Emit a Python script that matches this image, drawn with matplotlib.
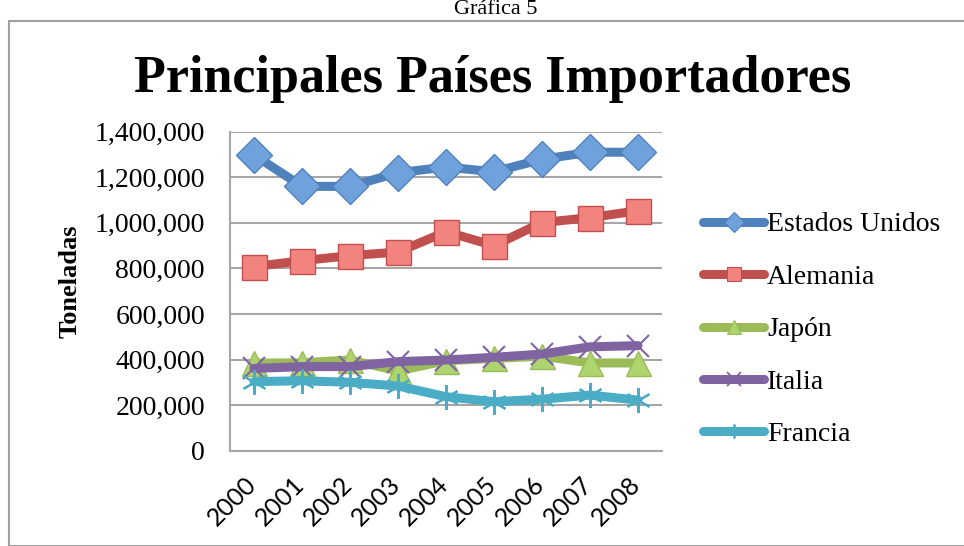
import matplotlib.pyplot as plt
from matplotlib.lines import Line2D
from matplotlib.patches import Rectangle
from matplotlib.ticker import FuncFormatter
from matplotlib.transforms import ScaledTranslation

# Datos (toneladas)
years = ['2000', '2001', '2002', '2003', '2004', '2005', '2006', '2007', '2008']
estados_unidos = [1298000, 1160000, 1160000, 1220000, 1245000, 1224000, 1279000, 1310000, 1310000]
alemania = [808000, 834000, 856000, 872000, 961000, 900000, 1001000, 1023000, 1053000]
japon = [384000, 386000, 398000, 350000, 395000, 405000, 415000, 385000, 385000]
italia = [361000, 369000, 369000, 391000, 398000, 410000, 424000, 456000, 461000]
francia = [303000, 307000, 300000, 284000, 237000, 215000, 226000, 244000, 222000]

series = [
    ('Estados Unidos', estados_unidos, '#4F81BD', '#6FA1DD', 'D', 18),
    ('Alemania', alemania, '#C0504D', '#F2837F', 's', 18),
    ('Japón', japon, '#9BBB59', '#ADD46E', '^', 18),
    ('Italia', italia, '#8064A2', '#8064A2', 'x', 16),
    ('Francia', francia, '#4BACC6', '#4BACC6', (6, 2, 0), 18),
]

serif = 'Liberation Serif'

fig = plt.figure(figsize=(9.64, 5.46), dpi=100)
ax = fig.add_axes([230 / 964, 1 - 450.7 / 546, 432 / 964, 319 / 546])

# marco del grafico
fig.patches.append(Rectangle((9 / 964, 0), 1.0, 1 - 21 / 546, transform=fig.transFigure,
                             fill=False, edgecolor='#A0A0A0', linewidth=1.5))

x = range(len(years))
handles = []
for i, (name, vals, lc, mc, mk, ms) in enumerate(series):
    if mk in ('x',) or isinstance(mk, tuple):
        ax.plot(x, vals, color=lc, linewidth=6.5, marker=mk, markersize=ms,
                markeredgewidth=1.5, markeredgecolor=lc, zorder=3 + i,
                solid_capstyle='round', solid_joinstyle='round')
        handles.append(Line2D([], [], color=lc, linewidth=6.5, marker=mk, markersize=10,
                              markeredgewidth=1.3, markeredgecolor=lc, solid_capstyle='round'))
    else:
        ax.plot(x, vals, color=lc, linewidth=6.5, marker=mk, markersize=ms,
                markerfacecolor=mc, markeredgecolor=lc, markeredgewidth=1.0, zorder=3 + i,
                solid_capstyle='round', solid_joinstyle='round')
        handles.append(Line2D([], [], color=lc, linewidth=6.5, marker=mk, markersize=10,
                              markerfacecolor=mc, markeredgecolor=lc, markeredgewidth=0.8,
                              solid_capstyle='round'))

ax.set_xlim(-0.5, len(years) - 0.5)
ax.set_ylim(0, 1400000)
ax.set_yticks(range(0, 1400001, 200000))
ax.yaxis.set_major_formatter(FuncFormatter(lambda v, p: f'{int(v):,}'))
ax.grid(axis='y', color='#A6A6A6', linewidth=1.5)
ax.set_axisbelow(True)
for s in ['top', 'right']:
    ax.spines[s].set_visible(False)
for s in ['left', 'bottom']:
    ax.spines[s].set_color('#A6A6A6')
    ax.spines[s].set_linewidth(1.5)
ax.tick_params(axis='both', length=0)
ax.tick_params(axis='y', labelsize=20, pad=18)
for t in ax.get_yticklabels():
    t.set_fontfamily(serif)

ax.set_xticks(list(x))
ax.set_xticklabels(years, rotation=45, ha='right', va='top', rotation_mode='anchor',
                   fontsize=18, fontfamily='Lato')
ax.tick_params(axis='x', pad=16)
shift = ScaledTranslation(-7 / 72, 0, fig.dpi_scale_trans)
for t in ax.get_xticklabels():
    t.set_transform(t.get_transform() + shift)

ax.set_ylabel('Toneladas', fontsize=19, fontweight='bold', fontfamily=serif)
ax.yaxis.set_label_coords(-0.343, 0.532)

fig.text(0.511, 1 - 92 / 546, 'Principales Países Importadores', ha='center', va='baseline',
         fontsize=37.5, fontweight='bold', fontfamily=serif)
fig.text(0.514, 1 - 14 / 546, 'Gráfica 5', ha='center', va='baseline',
         fontsize=16, fontfamily=serif)

fig.legend(handles, [s[0] for s in series], loc='upper left',
           bbox_to_anchor=(678 / 964, 1 - 187 / 546), frameon=False,
           prop={'family': serif, 'size': 20}, handlelength=2.2, handletextpad=0.1,
           labelspacing=0.97)

fig.savefig('out.png', dpi=100)
